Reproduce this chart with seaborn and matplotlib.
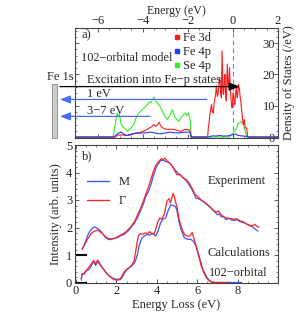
import numpy as np
import pandas as pd
import matplotlib
matplotlib.use("Agg")
import matplotlib.pyplot as plt
import seaborn as sns
from matplotlib.lines import Line2D
from matplotlib.patches import Rectangle
from matplotlib.ticker import MultipleLocator

# ---------------- data: panel a (DOS) ----------------
se4p_E = [-7.0, -5.31, -5.24, -5.17, -5.12, -5.08, -5.03, -4.95, -4.87, -4.8, -4.72, -4.66, -4.58, -4.51,
          -4.44, -4.37, -4.3, -4.22, -4.15, -4.08, -4.0, -3.93, -3.86, -3.78, -3.71, -3.64, -3.56, -3.49,
          -3.42, -3.35, -3.27, -3.2, -3.13, -3.06, -2.98, -2.91, -2.84, -2.77, -2.69, -2.62, -2.55, -2.47,
          -2.4, -2.33, -2.26, -2.18, -2.11, -2.04, -1.97, -1.92, -1.89, -1.85, -0.15, -0.07, 0.0, 0.07,
          0.15, 0.22, 0.29, 0.36, 0.42, 0.47, 0.55, 0.61, 2.0]
se4p_D = [0, 0, 2.9, 6.0, 7.7, 6.5, 7.2, 4.0, 3.2, 2.9, 2.2, 1.8, 2.4, 2.9,
          3.6, 4.5, 6.0, 7.2, 7.8, 8.3, 8.9, 9.3, 9.9, 10.4, 11.2, 10.9, 12.0, 12.8,
          11.5, 10.9, 10.2, 9.3, 8.4, 7.2, 6.3, 5.6, 6.4, 7.2, 8.8, 7.4, 6.1, 5.5,
          5.0, 5.8, 6.6, 7.2, 7.7, 6.8, 7.7, 6.4, 5.0, 0, 0, 0.75, 1.2, 1.8,
          2.6, 4.0, 4.6, 5.0, 4.4, 4.0, 1.8, 0, 0]

fe3d_E = [-7.0, -5.2, -5.12, -5.0, -4.88, -4.75, -4.6, -4.45, -4.3, -4.15, -4.0, -3.85, -3.7, -3.6, -3.5,
          -3.42, -3.35, -3.27, -3.2, -3.1, -3.0, -2.9, -2.75, -2.6, -2.45, -2.3, -2.15, -2.0, -1.92,
          -1.88, -1.85, -1.12, -1.09, -1.05, -1.02, -0.98, -0.95, -0.91, -0.87, -0.83, -0.8, -0.76,
          -0.73, -0.69, -0.66, -0.62, -0.58, -0.54, -0.51, -0.48, -0.44, -0.41, -0.38, -0.35, -0.32,
          -0.29, -0.25, -0.22, -0.19, -0.15, -0.12, -0.09, -0.05, -0.03, 0.01, 0.03, 0.06, 0.09, 0.12,
          0.15, 0.18, 0.2, 0.25, 0.29, 0.32, 0.35, 0.38, 0.41, 0.44, 0.47, 0.51, 0.55, 0.61, 0.66, 2.0]
fe3d_D = [0, 0, 0.7, 0.6, 0.7, 0.5, 0.5, 0.9, 1.3, 1.4, 1.8, 2.2, 2.9, 3.3, 4.0,
          3.4, 3.8, 4.7, 3.6, 2.9, 2.6, 2.4, 2.5, 2.4, 2.1, 1.8, 2.4, 2.4, 2.2,
          1.3, 0, 0, 2.9, 5.0, 7.2, 9.0, 10.4, 8.0, 7.7, 11.0, 12.0, 14.0,
          16.3, 13.0, 13.6, 17.0, 19.0, 14.0, 12.5, 27.5, 14.0, 13.6, 18.0, 20.0, 13.0,
          11.5, 23.3, 17.0, 15.8, 22.2, 16.0, 12.5, 10.0, 9.3, 14.0, 13.6, 11.0, 10.4, 14.0,
          15.8, 13.0, 12.5, 16.8, 15.2, 13.0, 11.5, 9.0, 7.2, 5.0, 4.0, 5.6, 2.9, 2.9, 0, 0]

fe4p_E = [-7.0, -5.3, -5.2, -5.1, -4.95, -4.85, -4.7, -4.5, -4.3, -4.0, -3.8, -3.6, -3.4, -3.2, -3.0,
          -2.8, -2.6, -2.4, -2.2, -2.0, -1.9, -1.85, -1.1, -0.9, -0.75, -0.6, -0.4, -0.2, 0.0, 0.1,
          0.2, 0.35, 0.5, 0.62, 0.7, 2.0]
fe4p_D = [0, 0, 0.5, 1.2, 1.6, 1.0, 0.5, 1.0, 1.2, 1.3, 1.4, 1.6, 1.2, 1.0, 1.3,
          1.6, 1.4, 1.3, 1.5, 1.6, 1.5, 0, 0, 0.4, 0.3, 0.5, 0.3, 0.4, 0.8, 1.0,
          0.6, 0.4, 0.3, 0.2, 0, 0]

dos_series = ["Fe 3d", "Fe 4p", "Se 4p"]
dos_colors = ["#ff1a1a", "#1f3dff", "#33ee22"]

# arrows (energy of right end, DOS height)
exc_arrow = (0.3, 16.1)
one_eV_arrow = (-1.16, 12.0)
three_seven_arrow = (-3.67, 6.6)

# ---------------- data: panel b (RIXS) ----------------
expM_x = [0.31, 0.45, 0.56, 0.7, 0.8, 0.89, 1.0, 1.1, 1.22, 1.35, 1.47, 1.6, 1.72, 1.85, 2.05, 2.2, 2.38,
          2.55, 2.71, 2.88, 3.04, 3.16, 3.28, 3.38, 3.45, 3.58, 3.70, 3.82, 3.94, 4.06, 4.19, 4.3, 4.44,
          4.56, 4.69, 4.81, 4.93, 5.1, 5.25, 5.45, 5.6, 5.69, 5.8, 5.94, 6.05, 6.19, 6.4, 6.6, 6.8, 7.01,
          7.1, 7.2, 7.3, 7.43, 7.6, 7.7, 7.84, 8.0, 8.1, 8.25, 8.4, 8.58, 8.7, 8.8, 9.0]
expM_y = [1.19, 1.45, 1.69, 1.88, 1.97, 2.02, 1.99, 1.95, 1.87, 1.75, 1.63, 1.57, 1.56, 1.6, 1.63, 1.7, 1.75,
          1.85, 1.99, 2.15, 2.35, 2.55, 2.76, 2.95, 3.12, 3.3, 3.54, 3.85, 4.13, 4.3, 4.43, 4.45, 4.4,
          4.38, 4.31, 4.2, 4.07, 3.95, 3.85, 3.71, 3.55, 3.45, 3.3, 3.06, 3.05, 3.0, 2.88, 2.76, 2.62, 2.46,
          2.5, 2.38, 2.4, 2.29, 2.33, 2.27, 2.26, 2.28, 2.22, 2.19, 2.15, 2.07, 2.04, 1.98, 1.87]
expG_x = [0.3, 0.45, 0.56, 0.7, 0.8, 0.95, 1.05, 1.15, 1.3, 1.45, 1.6, 1.75, 1.9, 2.05, 2.2, 2.4, 2.55,
          2.71, 2.88, 3.0, 3.15, 3.28, 3.4, 3.5, 3.62, 3.75, 3.88, 4.0, 4.12, 4.22, 4.32, 4.4, 4.5, 4.62,
          4.75, 4.9, 5.0, 5.15, 5.3, 5.45, 5.6, 5.75, 5.9, 6.05, 6.2, 6.4, 6.6, 6.8, 6.95, 7.05, 7.2,
          7.4, 7.6, 7.8, 7.95, 8.1, 8.3, 8.45, 8.6, 8.75, 8.85, 8.95, 9.05]
expG_y = [1.22, 1.4, 1.57, 1.72, 1.82, 1.88, 1.9, 1.87, 1.78, 1.66, 1.6, 1.58, 1.6, 1.66, 1.72, 1.8, 1.9,
          2.02, 2.2, 2.38, 2.62, 2.85, 3.1, 3.3, 3.55, 3.85, 4.15, 4.32, 4.42, 4.5, 4.47, 4.52, 4.42, 4.35,
          4.25, 4.05, 3.92, 3.92, 3.8, 3.75, 3.62, 3.42, 3.2, 3.1, 3.0, 2.9, 2.78, 2.62, 2.56, 2.6, 2.45,
          2.35, 2.33, 2.3, 2.32, 2.25, 2.2, 2.12, 2.08, 2.05, 2.12, 2.05, 2.0]

calcM_x = [0.26, 0.3, 0.4, 0.5, 0.6, 0.73, 0.86, 0.92, 0.97, 1.03, 1.09, 1.15, 1.22, 1.35, 1.47, 1.6, 1.72,
           1.85, 1.96, 2.1, 2.21, 2.3, 2.38, 2.46, 2.54, 2.66, 2.79, 2.88, 2.95, 3.05, 3.12, 3.2, 3.28,
           3.4, 3.53, 3.65, 3.78, 3.86, 3.94, 4.05, 4.19, 4.3, 4.44, 4.55, 4.69, 4.8, 4.93, 5.0, 5.1, 5.2,
           5.36, 5.53, 5.69, 5.8, 5.94, 6.02, 6.11, 6.2, 6.27, 6.4, 6.52, 6.65, 6.77, 6.9, 8.2]
calcM_y = [0.08, 0.32, 0.3, 0.42, 0.45, 0.56, 0.76, 0.7, 0.62, 0.7, 0.77, 0.68, 0.62, 0.5, 0.38, 0.27, 0.2,
           0.15, 0.12, 0.12, 0.12, 0.2, 0.32, 0.42, 0.48, 0.55, 0.62, 0.7, 0.8, 1.05, 1.33, 1.5, 1.63,
           1.7, 1.75, 1.72, 1.79, 1.75, 1.69, 1.85, 2.17, 2.3, 2.35, 2.6, 2.82, 2.8, 2.76, 2.6, 2.2, 1.93,
           1.63, 1.57, 1.57, 1.5, 1.33, 1.15, 0.92, 0.7, 0.5, 0.3, 0.14, 0.05, 0.02, 0.0, 0.0]
calcG_x = [0.26, 0.3, 0.42, 0.55, 0.68, 0.8, 0.88, 0.95, 1.02, 1.08, 1.15, 1.25, 1.4, 1.55, 1.7, 1.85, 2.0,
           2.15, 2.25, 2.35, 2.5, 2.65, 2.78, 2.88, 2.95, 3.02, 3.1, 3.2, 3.3, 3.42, 3.55, 3.65, 3.72, 3.85,
           3.95, 4.05, 4.15, 4.25, 4.38, 4.5, 4.6, 4.68, 4.75, 4.82, 4.9, 5.0, 5.1, 5.2, 5.3, 5.4, 5.55,
           5.65, 5.75, 5.82, 5.92, 6.0, 6.1, 6.2, 6.3, 6.45, 6.6, 6.75, 7.5]
calcG_y = [0.15, 0.3, 0.35, 0.48, 0.6, 0.72, 0.8, 0.68, 0.75, 0.82, 0.72, 0.6, 0.45, 0.3, 0.2, 0.12, 0.08,
           0.1, 0.2, 0.35, 0.48, 0.55, 0.65, 0.8, 1.1, 1.45, 1.72, 1.78, 1.75, 1.8, 1.78, 1.85, 1.8, 1.75,
           1.95, 2.2, 2.35, 2.3, 2.5, 2.95, 3.05, 2.9, 3.1, 3.24, 3.0, 2.75, 2.3, 2.05, 1.85, 1.72, 1.68,
           1.7, 1.82, 1.65, 1.4, 1.15, 0.88, 0.6, 0.4, 0.18, 0.06, 0.0, 0.0]

momenta = ["M", "Γ"]
mom_colors = ["#3a55ff", "#ff2222"]
baseline_offsets = [1.0, 0.0]

# ---------------- style ----------------
sns.set_theme(style="ticks")
plt.rcParams['font.family'] = ['Liberation Serif', 'DejaVu Serif']
FS = 9
plt.rcParams.update({'font.size': FS, 'axes.labelsize': FS, 'xtick.labelsize': FS,
                     'ytick.labelsize': FS, 'legend.fontsize': FS})
frame_col = "#444444"

fig = plt.figure(figsize=(2.99, 3.13), dpi=100)
ax1 = fig.add_axes([75/299, 1-138/313, 203/299, 110/313])
ax2 = fig.add_axes([75/299, 1-282.5/313, 203/299, 137.5/313])

# ---------------- panel a ----------------
dos_frames = []
for name, E, D in [("Fe 3d", fe3d_E, fe3d_D), ("Fe 4p", fe4p_E, fe4p_D), ("Se 4p", se4p_E, se4p_D)]:
    dos_frames.append(pd.DataFrame({"E": E, "DOS": D, "orb": name}))
dos = pd.concat(dos_frames, ignore_index=True)
for name, col in zip(["Se 4p", "Fe 3d", "Fe 4p"], [dos_colors[2], dos_colors[0], dos_colors[1]]):
    sub = dos[dos.orb == name]
    sns.lineplot(data=sub, x="E", y="DOS", color=col, lw=0.8, ax=ax1,
                 estimator=None, sort=False, legend=False)

ax1.set_xlim(-7, 2)
ax1.set_ylim(-0.3, 34.8)
ax1.axvline(0, color="#888888", lw=0.8, ls=(0, (4, 3)), zorder=0)

ax1.xaxis.set_label_position('top')
ax1.set_xlabel("Energy (eV)", labelpad=1.2, fontsize=8.6)
ax1.set_xticks([-6, -4, -2, 0, 2])
ax1.xaxis.set_minor_locator(MultipleLocator(0.5))
ax1.tick_params(axis='x', which='both', direction='in', top=True, bottom=True,
                labeltop=True, labelbottom=False, pad=0.5, labelsize=FS)
ax1.set_yticks([0, 10, 20, 30])
ax1.yaxis.set_minor_locator(MultipleLocator(2))
ax1.tick_params(axis='y', which='both', direction='in', left=True, right=True,
                labelleft=False, labelright=True, pad=-2, labelsize=FS)
for t in ax1.yaxis.get_major_ticks():
    t.label2.set_horizontalalignment('right')
ax1.set_ylabel("")
fig.text(289/299, 1-83/313, "Density of States (/eV)", rotation=90, ha='center', va='center', fontsize=FS)

ax1.text(0.03, 0.93, "a)", transform=ax1.transAxes, ha='left', va='center', fontsize=FS)
ax1.text(0.03, 0.73, "102−orbital model", transform=ax1.transAxes, ha='left', va='center', fontsize=8.8)
ax1.text(0.06, 0.53, "Excitation into Fe−p states", transform=ax1.transAxes, ha='left', va='center', fontsize=FS)
ax1.text(0.06, 0.40, "1 eV", transform=ax1.transAxes, ha='left', va='center', fontsize=FS)
ax1.text(0.06, 0.245, "3−7 eV", transform=ax1.transAxes, ha='left', va='center', fontsize=FS)

handles = [Line2D([], [], marker='s', ls='none', color=c, markersize=3.5) for c in dos_colors]
ax1.legend(handles, dos_series, loc='upper left', bbox_to_anchor=(0.44, 1.03), frameon=False,
           handletextpad=0.1, labelspacing=0.15, borderpad=0.1, handlelength=0.8, fontsize=FS)

left_frac = -0.074
astyle = '-|>,head_length=0.9,head_width=0.35'
ax1.annotate("", xy=exc_arrow, xycoords='data', xytext=(left_frac, exc_arrow[1]),
             textcoords=('axes fraction', 'data'), annotation_clip=False,
             arrowprops=dict(arrowstyle=astyle, color='black',
                             lw=0.9, shrinkA=0, shrinkB=0, mutation_scale=7))
for (Eend, h) in [one_eV_arrow, three_seven_arrow]:
    ax1.annotate("", xy=(left_frac, h), xycoords=('axes fraction', 'data'), xytext=(Eend, h),
                 textcoords='data', annotation_clip=False,
                 arrowprops=dict(arrowstyle=astyle, color='#4a6cff',
                                 lw=0.9, shrinkA=0, shrinkB=0, mutation_scale=7))
ax1.add_patch(Rectangle((-0.113, 0.0), 0.024, 0.49, transform=ax1.transAxes, clip_on=False,
                        facecolor='#cccccc', edgecolor='#888888', lw=0.6))
ax1.text(-0.074, 0.555, "Fe 1s", transform=ax1.transAxes, ha='center', va='center', fontsize=FS)

# ---------------- panel b ----------------
frames = []
for mom, (x, y) in zip(momenta, [(expM_x, expM_y), (expG_x, expG_y)]):
    frames.append(pd.DataFrame({"x": x, "y": y, "mom": mom, "kind": "exp"}))
for mom, (x, y) in zip(momenta, [(calcM_x, calcM_y), (calcG_x, calcG_y)]):
    frames.append(pd.DataFrame({"x": x, "y": y, "mom": mom, "kind": "calc"}))
rixs = pd.concat(frames, ignore_index=True)
pal = dict(zip(momenta, mom_colors))
for kind in ["exp", "calc"]:
    for mom in momenta:
        sub = rixs[(rixs.kind == kind) & (rixs.mom == mom)]
        sns.lineplot(data=sub, x="x", y="y", color=pal[mom], lw=0.9, ax=ax2,
                     estimator=None, sort=False, legend=False)
for off in baseline_offsets:
    ax2.plot([-0.05, 0.55], [off, off], color='black', lw=1.5, solid_capstyle='butt', clip_on=False)

ax2.set_xlim(-0.05, 10.0)
ax2.set_ylim(0, 5)
ax2.set_xticks([0, 2, 4, 6, 8])
ax2.xaxis.set_minor_locator(MultipleLocator(0.5))
ax2.set_yticks([0, 1, 2, 3, 4, 5])
ax2.yaxis.set_minor_locator(MultipleLocator(0.2))
ax2.tick_params(axis='both', which='both', direction='in', top=True, right=True, labelsize=FS, pad=2)
ax2.set_xlabel("Energy Loss (eV)", labelpad=1, fontsize=FS)
ax2.set_ylabel("Intensity (arb. units)", labelpad=3, fontsize=FS)

ax2.text(0.035, 0.92, "b)", transform=ax2.transAxes, ha='left', va='center', fontsize=FS)
ax2.text(0.655, 0.74, "Experiment", transform=ax2.transAxes, ha='left', va='center', fontsize=FS)
ax2.text(0.655, 0.215, "Calculations", transform=ax2.transAxes, ha='left', va='center', fontsize=FS)
ax2.text(0.66, 0.07, "102−orbital", transform=ax2.transAxes, ha='left', va='center', fontsize=FS)

lh = [Line2D([], [], color=c, lw=1.0) for c in mom_colors]
ax2.legend(lh, momenta, loc='upper left', bbox_to_anchor=(0.02, 0.83), frameon=False,
           handlelength=1.8, handletextpad=0.8, labelspacing=0.6, borderpad=0.1, fontsize=FS)

for ax in (ax1, ax2):
    for s in ax.spines.values():
        s.set_color(frame_col)
        s.set_linewidth(0.8)
    ax.tick_params(which='major', length=3, width=0.6, color=frame_col)
    ax.tick_params(which='minor', length=1.5, width=0.5, color=frame_col)

fig.savefig("out.png", dpi=100)
